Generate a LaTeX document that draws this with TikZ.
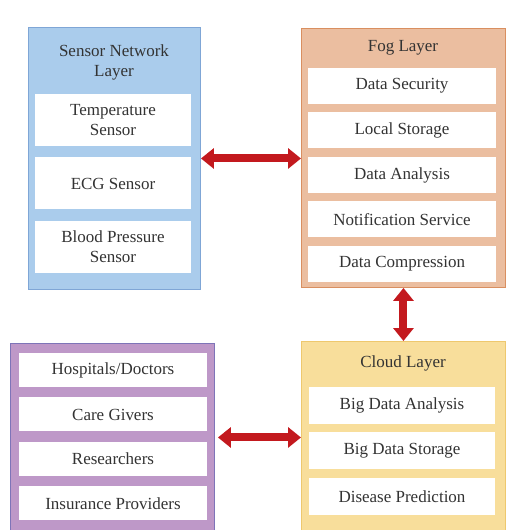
\documentclass[tikz,border=0pt]{standalone}
\usepackage{fontspec}
\setmainfont{Liberation Serif}
\usepackage{xcolor}
\usetikzlibrary{arrows.meta, positioning}

\definecolor{sensorfill}{HTML}{AACCEC}
\definecolor{sensorline}{HTML}{7FA6D6}
\definecolor{fogfill}{HTML}{EBBEA0}
\definecolor{fogline}{HTML}{D98F60}
\definecolor{cloudfill}{HTML}{F8DE9B}
\definecolor{cloudline}{HTML}{EEC86E}
\definecolor{userfill}{HTML}{BE98C8}
\definecolor{userline}{HTML}{7E74B8}
\definecolor{arrowred}{HTML}{C3191E}
\definecolor{textgray}{HTML}{333333}

\begin{document}
\begin{tikzpicture}[
        x=0.03cm, y=-0.03cm,
        font=\fontsize{14.5}{17}\selectfont, text=textgray,
        layer/.style={rectangle, draw, line width=0.8pt, anchor=north west, inner sep=0pt},
        item/.style={rectangle, fill=white, align=center, inner sep=0pt},
        title/.style={align=center, inner sep=0pt},
        arrow/.style={{Triangle[length=0.39cm, width=0.6cm]}-{Triangle[length=0.39cm, width=0.6cm]}, line width=0.24cm, draw=arrowred}
    ]
    \clip (0,0) rectangle (517,530);

    % sensor network layer
    \node (sensor) [layer, fill=sensorfill, draw=sensorline, minimum width=5.16cm, minimum height=7.86cm] at (28,27) {};
    \node (sensortitle) [title] at (114,62) {Sensor Network\\Layer};
    \node (temp) [item, minimum width=4.68cm, minimum height=1.56cm] at (113,120) {Temperature\\Sensor};
    \node (ecg) [item, minimum width=4.68cm, minimum height=1.56cm, below=0.33cm of temp] {ECG Sensor};
    \node (bp) [item, minimum width=4.68cm, minimum height=1.56cm, below=0.33cm of ecg] {Blood Pressure\\Sensor};

    % fog layer
    \node (fog) [layer, fill=fogfill, draw=fogline, minimum width=6.12cm, minimum height=7.77cm] at (301,28) {};
    \node (fogtitle) [title] at (403,48) {Fog Layer};
    \node (security) [item, minimum width=5.64cm, minimum height=1.08cm] at (402,86) {Data Security};
    \node (storage) [item, minimum width=5.64cm, minimum height=1.08cm, below=0.24cm of security] {Local Storage};
    \node (analysis) [item, minimum width=5.64cm, minimum height=1.08cm, below=0.24cm of storage] {Data Analysis};
    \node (notify) [item, minimum width=5.64cm, minimum height=1.08cm, below=0.24cm of analysis] {Notification Service};
    \node (compress) [item, minimum width=5.64cm, minimum height=1.08cm, below=0.24cm of notify] {Data Compression};

    % cloud layer
    \node (cloud) [layer, fill=cloudfill, draw=cloudline, minimum width=6.12cm, minimum height=5.7cm] at (301,341) {};
    \node (cloudtitle) [title] at (403,363) {Cloud Layer};
    \node (bigana) [item, minimum width=5.58cm, minimum height=1.11cm] at (402,405.5) {Big Data Analysis};
    \node (bigstore) [item, minimum width=5.58cm, minimum height=1.11cm, below=0.24cm of bigana] {Big Data Storage};
    \node (predict) [item, minimum width=5.58cm, minimum height=1.11cm, below=0.24cm of bigstore] {Disease Prediction};

    % end users
    \node (users) [layer, fill=userfill, draw=userline, minimum width=6.12cm, minimum height=5.64cm] at (10,343) {};
    \node (doctors) [item, minimum width=5.64cm, minimum height=1.02cm] at (113,370) {Hospitals/Doctors};
    \node (carers) [item, minimum width=5.64cm, minimum height=1.02cm, below=0.3cm of doctors] {Care Givers};
    \node (research) [item, minimum width=5.64cm, minimum height=1.02cm, below=0.3cm of carers] {Researchers};
    \node (insure) [item, minimum width=5.64cm, minimum height=1.02cm, below=0.3cm of research] {Insurance Providers};

    \draw[arrow] (sensor.east) -- (sensor.east -| fog.west);
    \draw[arrow] (fog.south) -- (cloud.north);
    \draw[arrow, shorten <=0.09cm] (users.east) -- (users.east -| cloud.west);
\end{tikzpicture}
\end{document}
